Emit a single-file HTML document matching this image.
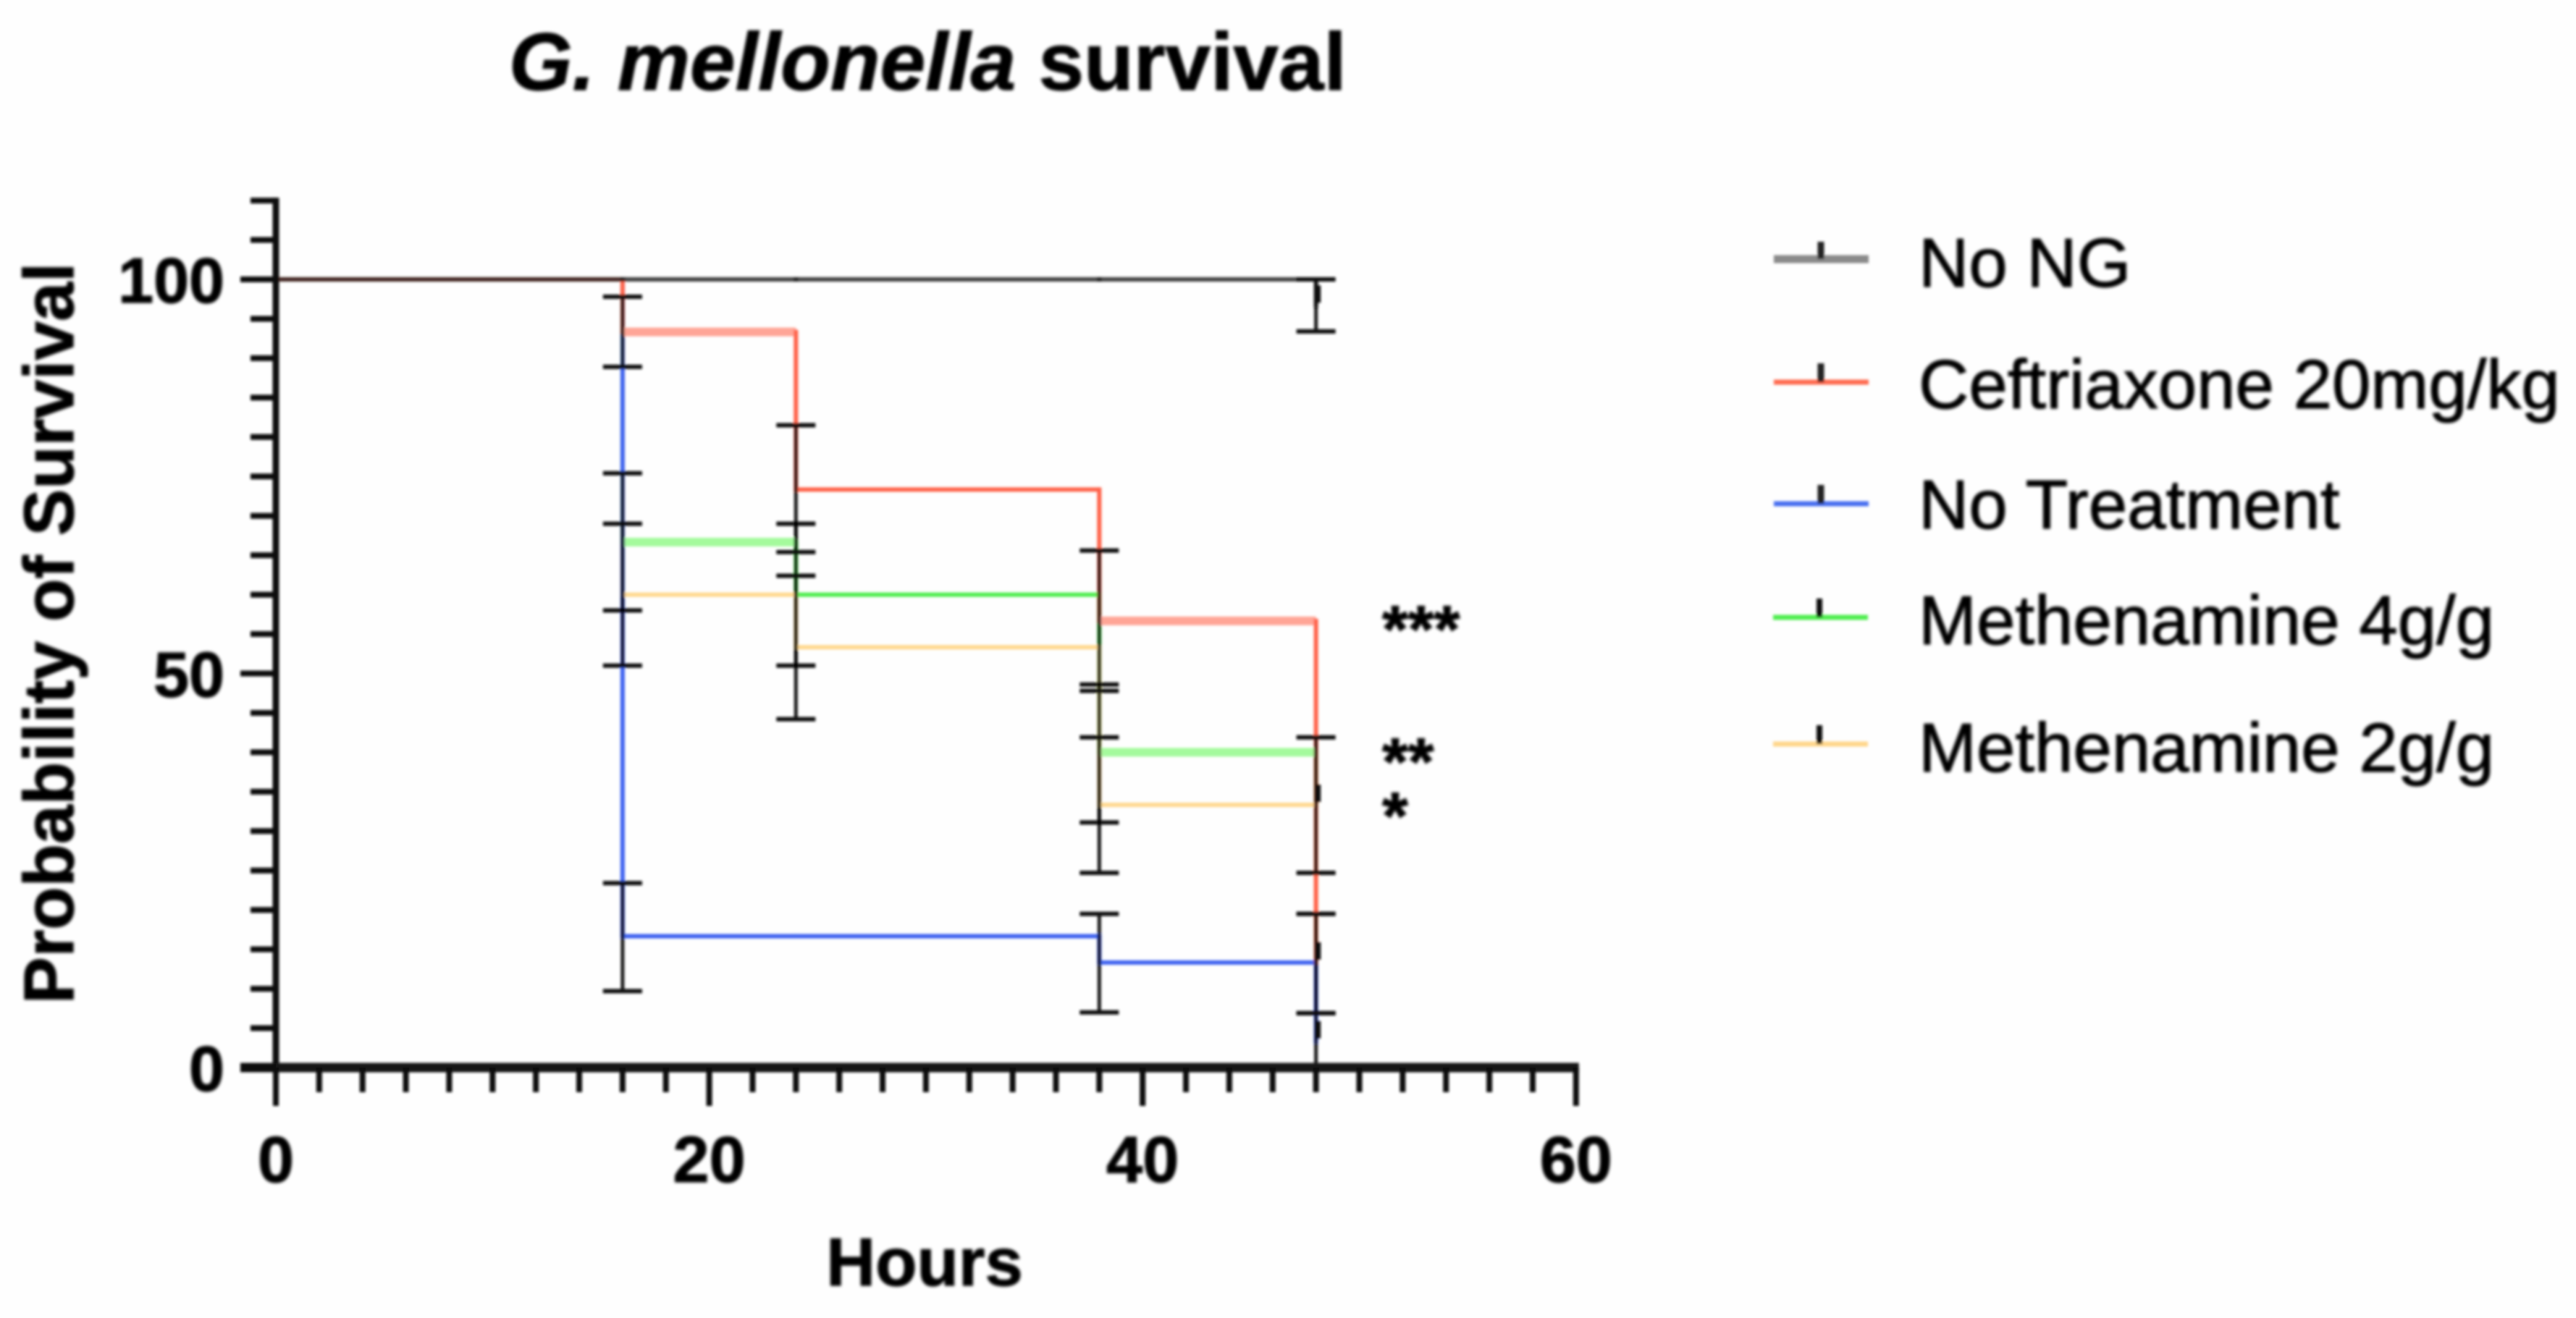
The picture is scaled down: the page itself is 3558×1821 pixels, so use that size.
<!DOCTYPE html>
<html lang="en">
<head>
<meta charset="utf-8">
<title>G. mellonella survival</title>
<style>
  html, body { margin: 0; padding: 0; background: #fefefe; }
  body { width: 3558px; height: 1821px; overflow: hidden; }
  svg { display: block; }
  text { font-family: "Liberation Sans", Arial, sans-serif; fill: #050505; stroke: #050505; stroke-width: 1.2px; }
  .bold { font-weight: 700; }
</style>
</head>
<body>
<svg id="chart" xmlns="http://www.w3.org/2000/svg" width="3558" height="1821" viewBox="0 0 3558 1821">
  <defs>
    <filter id="soft" x="-5%" y="-5%" width="110%" height="110%"><feGaussianBlur stdDeviation="1.9"/></filter>
    <filter id="softText" x="-5%" y="-5%" width="110%" height="110%"><feGaussianBlur stdDeviation="2"/></filter>
  </defs>
  <rect x="0" y="0" width="3558" height="1821" fill="#fefefe"/>

  <g id="plot" filter="url(#soft)"></g>

  <g id="labels" filter="url(#softText)">
    <text class="bold" x="703" y="124" font-size="112.5"><tspan font-style="italic">G. mellonella</tspan> survival</text>
    <text class="bold" font-size="97" text-anchor="middle" transform="translate(101,875) rotate(-90)">Probability of Survival</text>
    <text class="bold" font-size="94" text-anchor="middle" x="1277" y="1776">Hours</text>

    <text class="bold" font-size="92" x="1909" y="901">***</text>
    <text class="bold" font-size="92" x="1909" y="1084">**</text>
    <text class="bold" font-size="92" x="1909" y="1159">*</text>

    <text font-size="96" x="2650" y="396">No NG</text>
    <text font-size="96" x="2650" y="564">Ceftriaxone 20mg/kg</text>
    <text font-size="96" x="2650" y="730">No Treatment</text>
    <text font-size="96" x="2650" y="890">Methenamine 4g/g</text>
    <text font-size="96" x="2650" y="1066">Methenamine 2g/g</text>
  </g>

  <g id="legend" filter="url(#soft)">
    <g>
      <line x1="2450" x2="2581" y1="358" y2="358" stroke="#8a8a8a" stroke-width="11"/>
      <line x1="2515" x2="2515" y1="334" y2="358" stroke="#222" stroke-width="9"/>
    </g>
    <g>
      <line x1="2450" x2="2581" y1="528" y2="528" stroke="#ff6a50" stroke-width="7"/>
      <line x1="2515" x2="2515" y1="502" y2="528" stroke="#222" stroke-width="9"/>
    </g>
    <g>
      <line x1="2450" x2="2581" y1="696" y2="696" stroke="#4a70f0" stroke-width="7"/>
      <line x1="2515" x2="2515" y1="670" y2="696" stroke="#222" stroke-width="9"/>
    </g>
    <g>
      <line x1="2449" x2="2580" y1="853" y2="853" stroke="#50ee50" stroke-width="7"/>
      <line x1="2513" x2="2513" y1="827" y2="853" stroke="#111" stroke-width="8"/>
    </g>
    <g>
      <line x1="2449" x2="2580" y1="1028" y2="1028" stroke="#ffd68a" stroke-width="7"/>
      <line x1="2513" x2="2513" y1="1002" y2="1028" stroke="#111" stroke-width="8"/>
    </g>
  </g>
</svg>

<script>
// ---- chart data ----
const timePoints = [0, 16, 24, 38, 48];

const noNgSurvival = [100, 100, 100, 100, 96.67];
const ceftriaxoneSurvival = [100, 93.33, 73.33, 56.67, 13.33];
const noTreatmentSurvival = [100, 16.67, 16.67, 13.33, 3.33];
const methenamine4Survival = [100, 66.67, 60, 40, 33.33];
const methenamine2Survival = [100, 60, 53.33, 33.33, 13.33];

const noNgUpper = [null, null, null, null, 100];
const noNgLower = [null, null, null, null, 93.4];
const ceftriaxoneUpper = [null, 97.8, 81.5, 65.6, 19.5];
const ceftriaxoneLower = [null, 88.9, 65.4, 47.8, 6.9];
const noTreatmentUpper = [null, 23.4, null, 19.5, 6.9];
const noTreatmentLower = [null, 9.7, null, 7.0, 0];
const methenamine4Upper = [null, 75.4, 69, 48.6, 41.9];
const methenamine4Lower = [null, 58, 51, 31.1, 24.7];
const methenamine2Upper = [null, 69, 62.4, 41.9, 19.5];
const methenamine2Lower = [null, 51, 44.2, 24.7, 6.9];

const xMajorTicks = [0, 20, 40, 60];
const yMajorTicks = [0, 50, 100];
const xTickLabels = ["0", "20", "40", "60"];
const yTickLabels = ["0", "50", "100"];

// ---- axis functions ----
const X_ORIGIN = 381, X_PER_HOUR = 29.93;
const Y_ORIGIN = 1475, Y_PER_PERCENT = 10.89;
const X_MAX = 60, Y_MAX = 110, X_MINOR_STEP = 2, Y_MINOR_STEP = 5;
function xScale(hours) { return X_ORIGIN + hours * X_PER_HOUR; }
function yScale(percent) { return Y_ORIGIN - percent * Y_PER_PERCENT; }

const SVG_NS = "http://www.w3.org/2000/svg";
const plot = document.getElementById("plot");
const labels = document.getElementById("labels");

function makeLine(parent, x1, y1, x2, y2, stroke, width) {
  const el = document.createElementNS(SVG_NS, "line");
  el.setAttribute("x1", x1);
  el.setAttribute("y1", y1);
  el.setAttribute("x2", x2);
  el.setAttribute("y2", y2);
  el.setAttribute("stroke", stroke);
  el.setAttribute("stroke-width", width);
  parent.appendChild(el);
  return el;
}

// ---- series: drawing order and rendering widths per segment ----
const seriesList = [
  { key: "methenamine-4", values: methenamine4Survival, upper: methenamine4Upper, lower: methenamine4Lower, color: "#50ee50", pale: "#a4fa9c", wide: [false, true, false, true] },
  { key: "methenamine-2", values: methenamine2Survival, upper: methenamine2Upper, lower: methenamine2Lower, color: "#ffd88e", pale: "#ffe0a6", wide: [false, false, false, false] },
  { key: "no-treatment", values: noTreatmentSurvival, upper: noTreatmentUpper, lower: noTreatmentLower, color: "#3c62f0", pale: "#7f9af6", wide: [false, false, false, false] },
  { key: "ceftriaxone", values: ceftriaxoneSurvival, upper: ceftriaxoneUpper, lower: ceftriaxoneLower, color: "#ff6248", pale: "#ffa596", wide: [false, true, false, true] },
  { key: "no-ng", values: noNgSurvival, upper: noNgUpper, lower: noNgLower, color: "rgba(25,25,25,0.82)", pale: "rgba(25,25,25,0.82)", wide: [false, false, false, false] }
];

const stepLayer = document.createElementNS(SVG_NS, "g");


plot.appendChild(stepLayer);

seriesList.forEach(function (series) {
  const group = document.createElementNS(SVG_NS, "g");
  
  
  stepLayer.appendChild(group);
  for (let i = 0; i < timePoints.length - 1; i++) {
    const x1 = xScale(timePoints[i]);
    const x2 = xScale(timePoints[i + 1]);
    const y1 = yScale(series.values[i]);
    const y2 = yScale(series.values[i + 1]);
    const isWide = series.wide[i];
    const tread = makeLine(group, x1, y1, x2, y1, isWide ? series.pale : series.color, isWide ? 12 : 6);
    
    
    const riser = makeLine(group, x2, y1 - 3, x2, y2 + 3, series.color, 6);
    
    
  }
});

// ---- error bars and censor ticks ----
const errorLayer = document.createElementNS(SVG_NS, "g");


plot.appendChild(errorLayer);

seriesList.forEach(function (series) {
  timePoints.forEach(function (t, i) {
    if (series.upper[i] === null || series.lower[i] === null) return;
    const x = xScale(t);
    const yTop = yScale(series.upper[i]);
    const yBottom = yScale(series.lower[i]);
    const stem = makeLine(errorLayer, x, yTop, x, yBottom, "rgba(5,5,5,0.9)", 5);
    
    
    const capTop = makeLine(errorLayer, x - 27, yTop, x + 27, yTop, "#111", 6);
    
    
    const capBottom = makeLine(errorLayer, x - 27, yBottom, x + 27, yBottom, "#111", 6);
    
    
  });
  const last = timePoints.length - 1;
  const markX = xScale(timePoints[last]);
  const markY = yScale(series.values[last]);
  const mark = makeLine(errorLayer, markX + 2, markY - 28, markX + 2, markY - 4, "#111", 9);
  
  
});

// ---- axes ----
const axisLayer = document.createElementNS(SVG_NS, "g");


plot.appendChild(axisLayer);

const yAxisLine = makeLine(axisLayer, xScale(0), yScale(Y_MAX) - 4, xScale(0), yScale(0), "#0a0a0a", 9);



const xAxisLine = makeLine(axisLayer, 332, yScale(0), xScale(X_MAX) + 4, yScale(0), "#141414", 13);



for (let v = 0; v <= Y_MAX; v += Y_MINOR_STEP) {
  const isMajor = yMajorTicks.indexOf(v) !== -1;
  const tick = makeLine(axisLayer, isMajor ? 332 : 346, yScale(v), xScale(0), yScale(v), "#0a0a0a", 8);
  
  
}
for (let h = 0; h <= X_MAX; h += X_MINOR_STEP) {
  const isMajor = xMajorTicks.indexOf(h) !== -1;
  const tick = makeLine(axisLayer, xScale(h), yScale(0), xScale(h), isMajor ? 1528 : 1509, "#0a0a0a", 8);
  
  
}

// ---- tick labels ----
xMajorTicks.forEach(function (value, i) {
  const el = document.createElementNS(SVG_NS, "text");
  
  
  el.setAttribute("class", "bold");
  el.setAttribute("font-size", "90");
  el.setAttribute("text-anchor", "middle");
  el.setAttribute("x", xScale(value));
  el.setAttribute("y", 1633);
  el.textContent = xTickLabels[i];
  labels.appendChild(el);
});
yMajorTicks.forEach(function (value, i) {
  const el = document.createElementNS(SVG_NS, "text");
  
  
  el.setAttribute("class", "bold");
  el.setAttribute("font-size", "88");
  el.setAttribute("text-anchor", "end");
  el.setAttribute("x", 310);
  el.setAttribute("y", yScale(value) + 32);
  el.textContent = yTickLabels[i];
  labels.appendChild(el);
});
</script>
</body>
</html>
